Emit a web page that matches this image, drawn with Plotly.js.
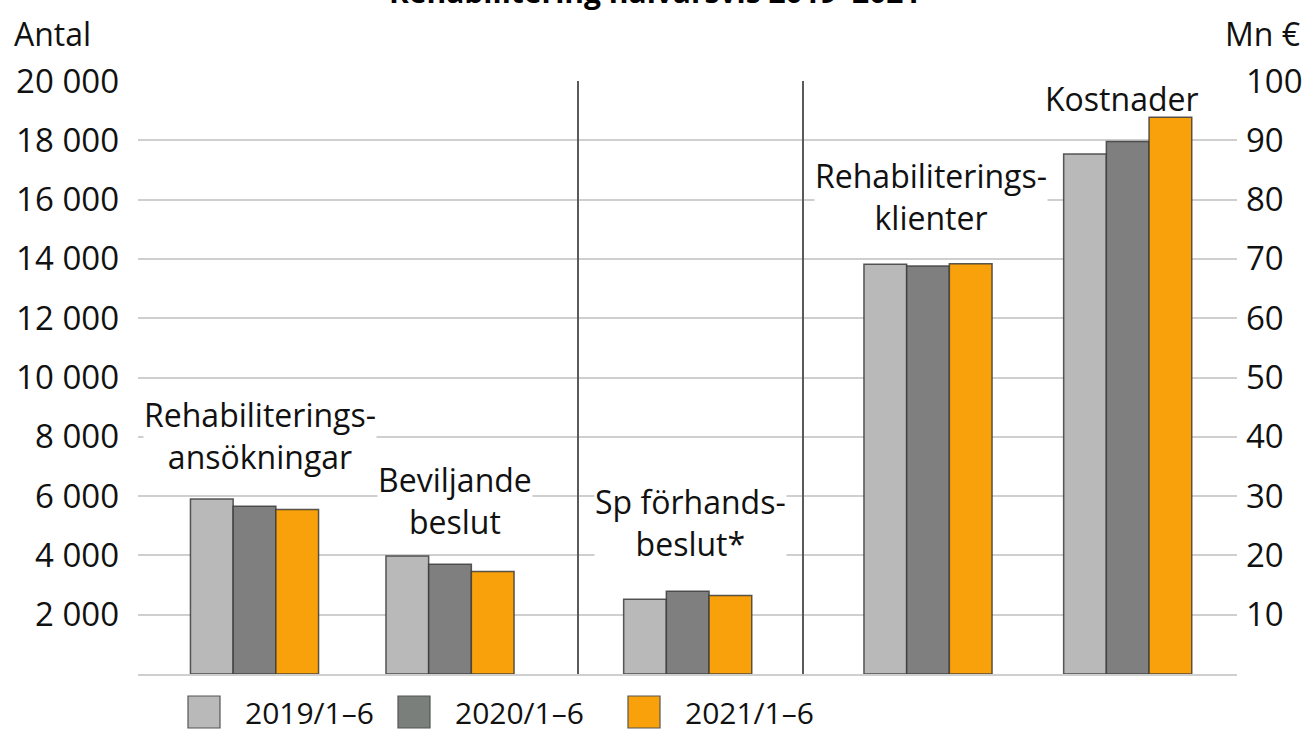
<!DOCTYPE html>
<html>
<head>
<meta charset="utf-8">
<script src="https://cdn.plot.ly/plotly-3.0.1.min.js"></script>
<style>html,body{margin:0;padding:0;background:#fff;}#chart{width:1311px;height:733px;}</style>
</head>
<body>
<div id="chart"></div>
<script>
// ---------- data ----------
const titleText = "Rehabilitering halvårsvis 2019–2021";
const leftAxisTitle = "Antal";
const rightAxisTitle = "Mn €";
const seriesNames = ["2019/1–6", "2020/1–6", "2021/1–6"];
const countCategories = ["Rehabiliterings-<br>ansökningar", "Beviljande<br>beslut", "Sp förhands-<br>beslut*", "Rehabiliterings-<br>klienter"];
const costCategory = "Kostnader";
const counts2019 = [5900, 3980, 2520, 13820];
const counts2020 = [5660, 3700, 2790, 13760];
const counts2021 = [5550, 3460, 2650, 13840];
const costs = [87.7, 89.8, 93.9]; // Mn €, per series
const leftTickVals = [2000, 4000, 6000, 8000, 10000, 12000, 14000, 16000, 18000, 20000];
const leftTickText = ["2 000", "4 000", "6 000", "8 000", "10 000", "12 000", "14 000", "16 000", "18 000", "20 000"];
const rightTickVals = [10, 20, 30, 40, 50, 60, 70, 80, 90, 100];
const rightTickText = ["10", "20", "30", "40", "50", "60", "70", "80", "90", "100"];

// ---------- layout constants ----------
const FONT = "Open Sans, Noto Sans, DejaVu Sans, sans-serif";
const FS = 32;
const colors = ["#b9b9b9", "#7f7f7f", "#f9a10b"];
const legendColors = ["#b9b9b9", "#7a7f7c", "#f9a10b"];
const GROUP_X = [116.5, 312, 549.7, 790, 989.7];
const SEPARATORS_X = [440, 665];
const BW = 42.7;
const L = 138, R = 74, T = 81, B = 59, W = 1311, H = 733;
const plotW = W - L - R, plotH = H - T - B;
const px2paperX = p => (p - L) / plotW;
const py2paperY = p => (H - B - p) / plotH;

const countSeries = [counts2019, counts2020, counts2021];
const traces = [];
countSeries.forEach((vals, i) => {
  traces.push({
    type: "bar", name: seriesNames[i], x: GROUP_X.slice(0, 4), y: vals,
    width: BW, offset: -1.5 * BW + i * BW,
    marker: {color: colors[i], line: {color: "rgba(60,60,60,0.85)", width: 1.5}},
    showlegend: false, hoverinfo: "y+name"
  });
  traces.push({
    type: "bar", name: seriesNames[i], x: [GROUP_X[4]], y: [costs[i]], yaxis: "y2",
    width: BW, offset: -1.5 * BW + i * BW,
    marker: {color: colors[i], line: {color: "rgba(60,60,60,0.85)", width: 1.5}},
    showlegend: false, hoverinfo: "y+name"
  });
});

const labelY = [8055, 5864, 5123, 16110];
const labelX = [122, 317, 552, 793];
const annotations = countCategories.map((c, i) => ({
  text: c, x: labelX[i], y: labelY[i], xref: "x", yref: "y",
  showarrow: false, align: "center", xanchor: "center", yanchor: "middle",
  bgcolor: "#ffffff", borderpad: 0, font: {family: FONT, size: FS, color: "#111"}
}));
annotations.push({
  text: costCategory, x: 984, y: 19420, xref: "x", yref: "y",
  showarrow: false, xanchor: "center", yanchor: "middle",
  borderpad: 0, font: {family: FONT, size: FS, color: "#111"}
});
annotations.push({
  text: "<b>" + titleText + "</b>", x: px2paperX(655), y: py2paperY(-8), xref: "paper", yref: "paper",
  showarrow: false, xanchor: "center", yanchor: "middle", font: {family: FONT, size: 30, color: "#000"}
});
annotations.push({
  text: leftAxisTitle, x: px2paperX(12), y: py2paperY(33), xref: "paper", yref: "paper",
  showarrow: false, xanchor: "left", yanchor: "middle", font: {family: FONT, size: FS, color: "#111"}
});
annotations.push({
  text: rightAxisTitle, x: px2paperX(1302), y: py2paperY(33), xref: "paper", yref: "paper",
  showarrow: false, xanchor: "right", yanchor: "middle", font: {family: FONT, size: FS, color: "#111"}
});

// custom legend
const shapes = [];
const legSqX = [188, 398, 628];
const legSq = 32;
const legCY = 712;
seriesNames.forEach((n, i) => {
  shapes.push({
    type: "rect", xref: "paper", yref: "paper",
    x0: px2paperX(legSqX[i]), x1: px2paperX(legSqX[i] + legSq),
    y0: py2paperY(legCY + legSq / 2), y1: py2paperY(legCY - legSq / 2),
    fillcolor: legendColors[i], line: {color: "#555", width: 1.2}
  });
  annotations.push({
    text: n, x: px2paperX(legSqX[i] + legSq + 24), y: py2paperY(legCY), xref: "paper", yref: "paper",
    showarrow: false, xanchor: "left", yanchor: "middle", borderpad: 0,
    font: {family: FONT, size: 30, color: "#111"}
  });
});
SEPARATORS_X.forEach(sx => {
  shapes.push({type: "line", xref: "x", yref: "y", x0: sx, x1: sx, y0: 0, y1: 20000,
    line: {color: "#5a5a5a", width: 2}, layer: "above"});
});

const layout = {
  width: W, height: H,
  margin: {l: L, r: R, t: T, b: B, pad: 0},
  paper_bgcolor: "#fff", plot_bgcolor: "#fff",
  barmode: "overlay",
  showlegend: false,
  font: {family: FONT, size: FS, color: "#111"},
  xaxis: {range: [0, plotW], showgrid: false, zeroline: false, showticklabels: false, ticks: "",
    showline: true, linecolor: "#cfcfcf", linewidth: 2, fixedrange: true},
  yaxis: {range: [0, 20000], tickvals: leftTickVals, ticktext: leftTickText, showgrid: true,
    gridcolor: "#cfcfcf", gridwidth: 2, zeroline: false, ticks: "", ticklabelstandoff: 18,
    tickfont: {family: FONT, size: 33, color: "#111"}, fixedrange: true},
  yaxis2: {range: [0, 100], overlaying: "y", side: "right", tickvals: rightTickVals, ticktext: rightTickText,
    showgrid: false, zeroline: false, ticks: "", ticklabelstandoff: 8,
    tickfont: {family: FONT, size: 33, color: "#111"}, fixedrange: true},
  annotations: annotations,
  shapes: shapes
};

Plotly.newPlot("chart", traces, layout, {displayModeBar: false, staticPlot: true});
</script>
</body>
</html>
